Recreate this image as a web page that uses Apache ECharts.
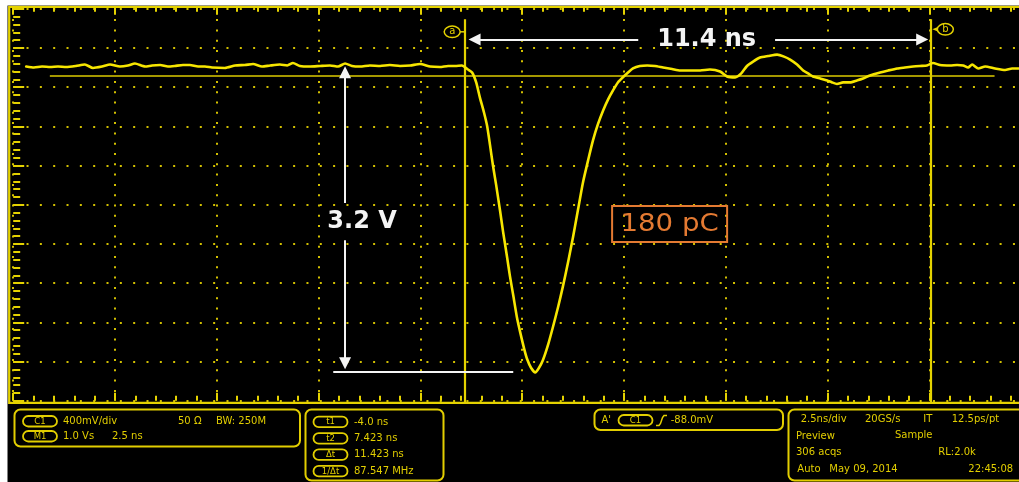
<!DOCTYPE html>
<html>
<head>
<meta charset="utf-8">
<script src="https://cdn.jsdelivr.net/npm/echarts@6/dist/echarts.min.js"></script>
<style>
  html, body { margin: 0; padding: 0; background: #ffffff; }
  #chart { width: 1019px; height: 482px; }
</style>
</head>
<body>
<div id="chart"></div>
<script>
// Channel C1 acquisition: time (ns) and amplitude (V)
const timeNs = [
  -14.78, -14.59, -14.39, -14.19, -14.00, -13.80, -13.56, -13.34, -13.14, -12.92,
  -12.72, -12.48, -12.28, -12.11, -11.86, -11.69, -11.49, -11.30, -11.13, -10.93,
  -10.76, -10.56, -10.39, -10.22, -9.90, -9.65, -9.41, -9.21, -8.99, -8.79,
  -8.55, -8.37, -8.23, -8.06, -7.81, -7.56, -7.32, -7.12, -6.95, -6.78,
  -6.58, -6.34, -6.09, -5.85, -5.60, -5.35, -5.11, -4.86, -4.62, -4.42,
  -4.25, -4.08, -3.93, -3.83, -3.73, -3.64, -3.54, -3.46, -3.39, -3.32,
  -3.24, -3.14, -3.07, -2.97, -2.90, -2.82, -2.73, -2.65, -2.55, -2.48,
  -2.38, -2.28, -2.19, -2.09, -1.96, -1.84, -1.72, -1.60, -1.47, -1.35,
  -1.23, -1.11, -0.98, -0.86, -0.74, -0.61, -0.49, -0.37, -0.25, -0.12,
  0.00, 0.12, 0.29, 0.47, 0.66, 0.86, 1.08, 1.28, 1.52, 1.77,
  2.01, 2.26, 2.43, 2.63, 2.78, 2.92, 3.07, 3.24, 3.44, 3.66,
  3.83, 3.98, 4.15, 4.30, 4.42, 4.54, 4.72, 4.89, 5.01, 5.13,
  5.28, 5.45, 5.62, 5.77, 5.94, 6.19, 6.39, 6.61, 6.80, 7.00,
  7.17, 7.34, 7.49, 7.66, 7.91, 8.08, 8.23, 8.35, 8.45, 8.60,
  8.77, 9.01, 9.26, 9.43, 9.60
];
const voltV = [
  1.446, 1.436, 1.446, 1.441, 1.446, 1.441, 1.452, 1.467, 1.431, 1.446,
  1.467, 1.446, 1.457, 1.478, 1.446, 1.457, 1.462, 1.446, 1.452, 1.462,
  1.462, 1.446, 1.446, 1.436, 1.431, 1.457, 1.462, 1.472, 1.446, 1.457,
  1.467, 1.457, 1.483, 1.452, 1.446, 1.452, 1.457, 1.446, 1.478, 1.452,
  1.446, 1.457, 1.452, 1.462, 1.452, 1.457, 1.472, 1.446, 1.441, 1.452,
  1.452, 1.457, 1.415, 1.384, 1.280, 1.124, 0.968, 0.822, 0.624, 0.416,
  0.208, -0.073, -0.281, -0.551, -0.749, -0.947, -1.176, -1.332, -1.509, -1.613,
  -1.707, -1.753, -1.707, -1.623, -1.457, -1.270, -1.072, -0.853, -0.593, -0.333,
  -0.052, 0.229, 0.468, 0.676, 0.843, 0.989, 1.103, 1.197, 1.280, 1.337,
  1.384, 1.426, 1.452, 1.457, 1.452, 1.436, 1.420, 1.405, 1.405, 1.405,
  1.415, 1.394, 1.342, 1.332, 1.374, 1.452, 1.498, 1.540, 1.556, 1.571,
  1.550, 1.519, 1.467, 1.405, 1.374, 1.342, 1.321, 1.301, 1.280, 1.264,
  1.280, 1.280, 1.301, 1.321, 1.353, 1.384, 1.405, 1.426, 1.436, 1.446,
  1.452, 1.457, 1.483, 1.462, 1.457, 1.462, 1.457, 1.436, 1.467, 1.426,
  1.446, 1.426, 1.410, 1.426, 1.426
];

// Cursor a / b positions (ns)
const cursorT = [-4.0, 7.423];
const cursorNames = ['a', 'b'];

// Annotations
const baselineV = 1.45;
const amplitudeV = 3.2;
const amplitudeLabel = '3.2 V';
const amplitudeAtT = -6.95;
const widthLabel = '11.4 ns';
const chargeLabel = '180 pC';
const chargeAt = [1.02, -0.2];
const refLevelV = 1.35;
const refSpanT = [-14.2, 9.0];

// Readout panel texts
const channelTags = ['C1', 'M1'];
const channelText = [['400mV/div', '50 Ω', 'BW: 250M'], ['1.0 Vs', '2.5 ns']];
const cursorTags = ['t1', 't2', 'Δt', '1/Δt'];
const cursorReadout = ['-4.0 ns', '7.423 ns', '11.423 ns', '87.547 MHz'];
const triggerText = ["A'", 'C1', '-88.0mV'];
const acqText = [
  ['2.5ns/div', '20GS/s', 'IT', '12.5ps/pt'],
  ['Preview', 'Sample'],
  ['306 acqs', 'RL:2.0k'],
  ['Auto', 'May 09, 2014', '22:45:08']
];

const TRACE = '#f7e600';
const DOTS = '#d2c000';
const FRAME = '#e4d200';
const INFO = '#e2ce00';
const WHITE = '#f4f4f4';
const ORANGE = '#e47a32';
const FONT = '"DejaVu Sans", "Liberation Sans", sans-serif';

const chart = echarts.init(document.getElementById('chart'), null, { renderer: 'canvas' });

function divisionAxisX(position, withGrid) {
  return {
    type: 'value', gridIndex: 0, position: position, min: 0, max: 10, interval: 1, offset: 2,
    axisLine: { show: false },
    axisLabel: { show: false },
    axisTick: { show: true, inside: true, length: 8, lineStyle: { color: FRAME, width: 2 } },
    minorTick: { show: true, splitNumber: 5, length: 5, lineStyle: { color: FRAME, width: 2 } },
    splitLine: withGrid
      ? { show: true, lineStyle: { color: DOTS, width: 2, type: [2, 8.3] } }
      : { show: false },
    minorSplitLine: { show: false }
  };
}

const trace = timeNs.map((t, i) => [t, voltV[i]]);
const gridBottomV = -2.07;
const cursorTopV = 1.94;
const arrowLevelV = 1.73;
const tipNs = 0.15;   // half arrowhead, in ns
const tipV = 0.063;   // half arrowhead, in V
const ampBottomV = baselineV - amplitudeV;
const ampGap = [0.02, -0.37];
const widthGap = [0.25, 3.61];

chart.setOption({
  animation: false,
  backgroundColor: '#000000',
  grid: { left: 13.2, top: 8.8, width: 1018, height: 392, outerBoundsMode: 'none', containLabel: false },
  xAxis: [
    divisionAxisX('bottom', true),
    { type: 'value', gridIndex: 0, position: 'bottom', min: -15.1, max: 9.9, show: false },
    divisionAxisX('top', false)
  ],
  yAxis: [
    {
      type: 'value', gridIndex: 0, position: 'left', min: 0, max: 10, interval: 1, offset: 4,
      axisLine: { show: false },
      axisLabel: { show: false },
      axisTick: { show: true, inside: true, length: 11, lineStyle: { color: FRAME, width: 2 } },
      minorTick: { show: true, splitNumber: 5, length: 7, lineStyle: { color: FRAME, width: 2 } },
      splitLine: { show: true, lineStyle: { color: DOTS, width: 2, type: [2, 11.33] } },
      minorSplitLine: { show: false }
    },
    { type: 'value', gridIndex: 0, position: 'left', min: -2.05, max: 2.05, show: false }
  ],
  series: [
    {
      name: 'C1', type: 'line', xAxisIndex: 1, yAxisIndex: 1, data: trace,
      showSymbol: false, symbol: 'none', sampling: 'none', z: 6, smooth: 0.2,
      lineStyle: { color: TRACE, width: 2.6, join: 'round', cap: 'round' }
    },
    {
      name: 'cursors', type: 'lines', coordinateSystem: 'cartesian2d', xAxisIndex: 1, yAxisIndex: 1,
      silent: true, z: 5,
      lineStyle: { color: FRAME, width: 2.2, opacity: 1 },
      data: cursorT.map(t => ({ coords: [[t, gridBottomV], [t, cursorTopV]] }))
    },
    {
      name: 'reference', type: 'lines', coordinateSystem: 'cartesian2d', xAxisIndex: 1, yAxisIndex: 1,
      silent: true, z: 5,
      lineStyle: { color: '#dccb00', width: 1.6, opacity: 1 },
      data: [{ coords: [[refSpanT[0], refLevelV], [refSpanT[1], refLevelV]] }]
    },
    {
      name: 'arrows', type: 'lines', coordinateSystem: 'cartesian2d', xAxisIndex: 1, yAxisIndex: 1,
      silent: true, z: 7,
      symbol: ['none', 'triangle'], symbolSize: 12,
      lineStyle: { color: WHITE, width: 2, opacity: 1 },
      data: [
        { coords: [[widthGap[0], arrowLevelV], [cursorT[0] + 0.08 + tipNs, arrowLevelV]] },
        { coords: [[widthGap[1], arrowLevelV], [cursorT[1] - 0.05 - tipNs, arrowLevelV]] },
        { coords: [[amplitudeAtT, ampGap[0]], [amplitudeAtT, baselineV - tipV]] },
        { coords: [[amplitudeAtT, ampGap[1]], [amplitudeAtT, ampBottomV + 0.03 + tipV]] }
      ]
    },
    {
      name: 'amplitude base', type: 'lines', coordinateSystem: 'cartesian2d', xAxisIndex: 1, yAxisIndex: 1,
      silent: true, z: 7,
      lineStyle: { color: WHITE, width: 2, opacity: 1 },
      data: [{ coords: [[amplitudeAtT - 0.29, ampBottomV], [-2.82, ampBottomV]] }]
    }
  ]
});

const px = (t, v) => chart.convertToPixel({ xAxisIndex: 1, yAxisIndex: 1 }, [t, v]);

// ---- annotations placed on the data scale
const annot = [];
const ampMid = px(amplitudeAtT, (ampGap[0] + ampGap[1]) / 2);
annot.push({
  type: 'text', z: 20, x: ampMid[0] + 17, y: ampMid[1],
  style: { text: amplitudeLabel, fill: WHITE, font: 'bold 24px ' + FONT, align: 'center', verticalAlign: 'middle' }
});
const wMid = px((widthGap[0] + widthGap[1]) / 2, arrowLevelV);
annot.push({
  type: 'text', z: 20, x: wMid[0], y: wMid[1],
  style: { text: widthLabel, fill: WHITE, font: 'bold 24px ' + FONT, align: 'center', verticalAlign: 'middle' }
});
const qc = px(chargeAt[0], chargeAt[1]);
annot.push({
  type: 'group', z: 20, x: qc[0], y: qc[1],
  children: [
    { type: 'rect', shape: { x: -57.5, y: -18, width: 115, height: 36 }, style: { fill: 'none', stroke: ORANGE, lineWidth: 2 } },
    { type: 'text', x: 0, y: 1, scaleX: 1.15, style: { text: chargeLabel, fill: ORANGE, font: '24px ' + FONT, align: 'center', verticalAlign: 'middle' } }
  ]
});
// cursor tags
cursorT.forEach((t, i) => {
  const top = px(t, cursorTopV);
  const cx = top[0];
  const children = [];
  if (i === 0) {
    const ex = cx - 13, ey = top[1] + 12.5;
    children.push({ type: 'line', shape: { x1: ex + 7, y1: ey, x2: cx, y2: ey }, style: { stroke: FRAME, lineWidth: 1.5 } });
    children.push({ type: 'ellipse', shape: { cx: ex, cy: ey, rx: 8, ry: 5.7 }, style: { fill: '#000', stroke: FRAME, lineWidth: 1.5 } });
    children.push({ type: 'text', x: ex, y: ey, style: { text: cursorNames[i], fill: FRAME, font: '10px ' + FONT, align: 'center', verticalAlign: 'middle' } });
  } else {
    const ex = cx + 15, ey = top[1] + 10;
    children.push({ type: 'polygon', shape: { points: [[cx + 2, ey], [cx + 8, ey - 2.5], [cx + 8, ey + 2.5]] }, style: { fill: FRAME } });
    children.push({ type: 'ellipse', shape: { cx: ex, cy: ey, rx: 8, ry: 5.7 }, style: { fill: '#000', stroke: FRAME, lineWidth: 1.5 } });
    children.push({ type: 'text', x: ex, y: ey, style: { text: cursorNames[i], fill: FRAME, font: '10px ' + FONT, align: 'center', verticalAlign: 'middle' } });
  }
  annot.push({ type: 'group', z: 20, children: children });
});

// ---- screen frame, margins and readout panel
const panel = [];
panel.push({ type: 'rect', z: 30, shape: { x: 0, y: 0, width: 7.5, height: 482 }, style: { fill: '#ffffff' } });
panel.push({ type: 'rect', z: 30, shape: { x: 0, y: 0, width: 1019, height: 5.6 }, style: { fill: '#ffffff' } });
panel.push({ type: 'rect', z: 3, shape: { x: 9.2, y: 6.8, width: 1040, height: 396 }, style: { fill: 'none', stroke: FRAME, lineWidth: 2.2 } });

function box(x, y, w, h) {
  panel.push({ type: 'rect', z: 10, shape: { x: x, y: y, width: w, height: h, r: 6 }, style: { fill: 'none', stroke: INFO, lineWidth: 2 } });
}
function pill(x, y, label) {
  panel.push({ type: 'rect', z: 10, shape: { x: x, y: y, width: 34, height: 10.5, r: 5.25 }, style: { fill: 'none', stroke: INFO, lineWidth: 1.8 } });
  panel.push({ type: 'text', z: 11, x: x + 17, y: y + 5.5, style: { text: label, fill: INFO, font: '8.5px ' + FONT, align: 'center', verticalAlign: 'middle' } });
}
function label(x, y, text) {
  panel.push({ type: 'text', z: 11, x: x, y: y, style: { text: text, fill: INFO, font: '10px ' + FONT, align: 'left', verticalAlign: 'middle' } });
}

// channel box
box(14.5, 409.5, 285.5, 37);
pill(23, 416, channelTags[0]);
pill(23, 431, channelTags[1]);
label(63, 421.3, channelText[0][0]);
label(178, 421.3, channelText[0][1]);
label(216, 421.3, channelText[0][2]);
label(63, 436.3, channelText[1][0]);
label(112, 436.3, channelText[1][1]);

// cursor readout box
box(305.5, 409.5, 138, 71);
const rowY = [422, 438.5, 454.7, 471.2];
cursorTags.forEach((tag, i) => {
  pill(313.5, rowY[i] - 5.3, tag);
  label(354, rowY[i], cursorReadout[i]);
});

// trigger box
box(594.5, 409.5, 188.5, 20.5);
label(601.5, 420.3, triggerText[0]);
pill(618.5, 415, triggerText[1]);
panel.push({
  type: 'polyline', z: 11,
  shape: { points: [[656, 425.5], [659, 425.5], [660.5, 423.5], [662.5, 417.5], [664, 415.5], [667, 415.5]] },
  style: { stroke: INFO, lineWidth: 1.5, fill: 'none' }
});
label(670.7, 420.3, triggerText[2]);

// acquisition box
box(788.5, 409.5, 245, 71);
label(800.7, 419.3, acqText[0][0]);
label(865, 419.3, acqText[0][1]);
label(923.3, 419.3, acqText[0][2]);
label(951.7, 419.3, acqText[0][3]);
label(796, 436, acqText[1][0]);
label(895, 435.5, acqText[1][1]);
label(796, 452.7, acqText[2][0]);
label(938.3, 452.7, acqText[2][1]);
label(797.3, 469.7, acqText[3][0]);
label(829.3, 469.7, acqText[3][1]);
label(968.3, 469.7, acqText[3][2]);

chart.setOption({ graphic: annot.concat(panel) });
</script>
</body>
</html>
